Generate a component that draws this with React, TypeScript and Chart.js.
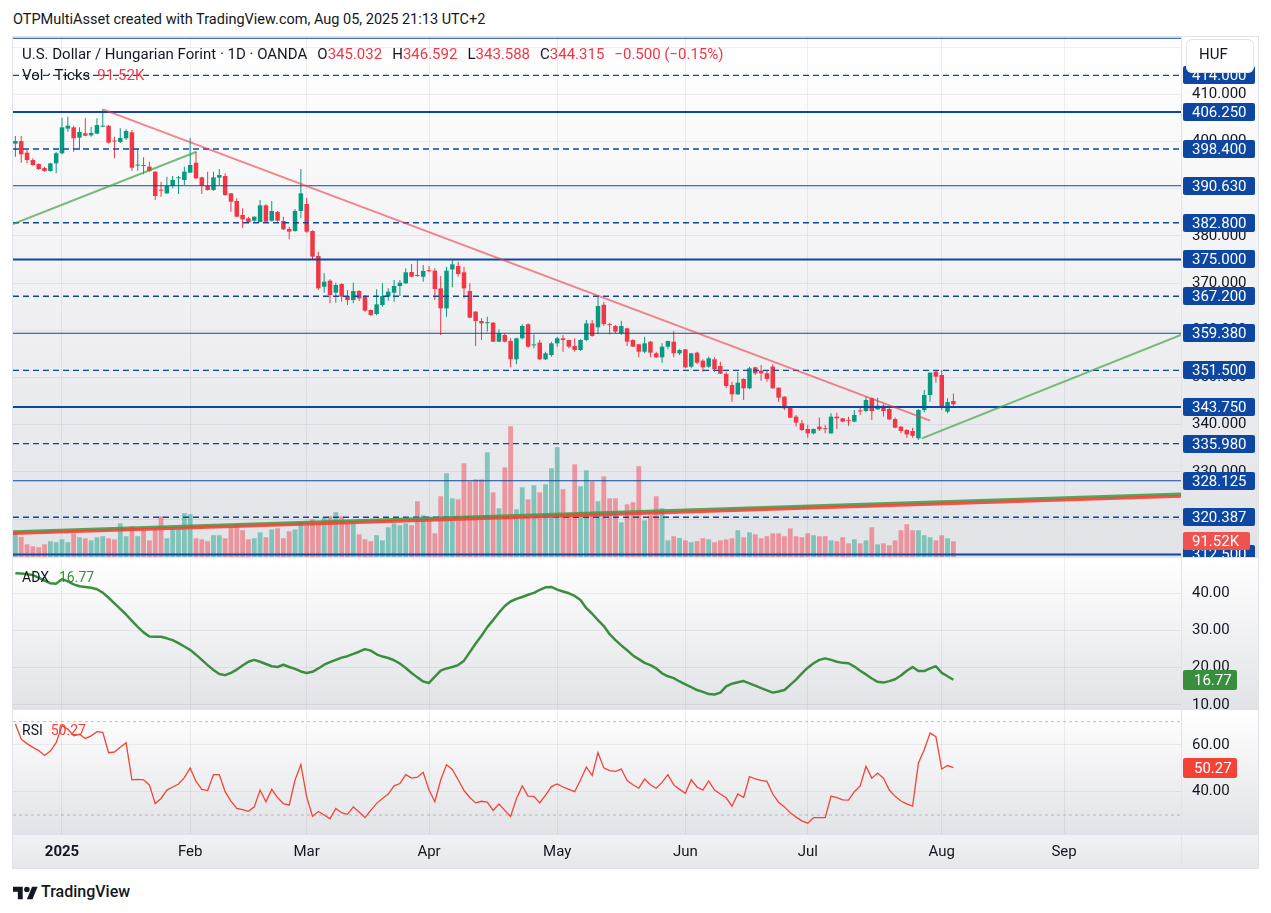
import React, { useEffect, useRef } from 'react';
import { Chart, registerables } from 'chart.js';

Chart.register(...registerables);

const FONT = 'Roboto, "Liberation Sans", Arial, sans-serif';
const TEXT = '#131722';
const UP = '#089981';
const DOWN = '#f23645';
const LEVEL = '#0d47a1';
const GRID = 'rgba(42, 46, 57, 0.07)';
const ADX_GREEN = '#3b8e3e';
const RSI_RED = '#f44336';

Chart.defaults.font.family = FONT;
Chart.defaults.color = TEXT;

// Horizontal window in bar units (bar 0 = 2 Jan 2025, weekdays only)
const X_MIN = -8.41;
const X_MAX = 192.07;
const AXIS_W = 77;

// ---- USD/HUF daily candles, first bar = 19 Dec 2024 ----
const firstBar = -8;
const opens = [
  399.54, 400.1, 397.63, 396.08, 395.23, 394.38, 393.75, 395.37,
  397.49, 402.72, 403.0, 400.81, 401.73, 401.3, 401.66, 403.14, 403.35, 400.2,
  399.89, 400.67, 401.94, 394.9, 394.9, 394.67, 393.61, 389.7, 389.02, 390.57,
  392.2, 391.84, 393.4, 395.51, 392.41, 390.57, 389.72, 392.34, 392.69, 389.02,
  387.39, 384.43, 383.72, 383.23, 382.94, 386.47, 383.23, 385.06, 383.16, 381.46,
  381.04, 385.27, 386.76, 381.04, 375.74, 369.24, 370.51, 367.97, 369.81, 367.27,
  366.42, 368.33, 367.13, 364.3, 363.45, 365.36, 367.13, 367.97, 369.38, 369.95,
  372.35, 371.6, 371.36, 372.6, 372.63, 368.89, 364.65, 372.9, 373.62, 372.28,
  368.33, 363.95, 361.97, 361.5, 361.62, 357.59, 359.0, 357.73, 353.85, 358.3,
  361.26, 356.8, 357.38, 353.85, 354.77, 357.24, 358.3, 357.94, 356.68, 355.83,
  357.94, 361.47, 360.63, 365.4, 361.2, 360.91, 359.36, 360.42, 357.94, 357.03,
  355.47, 357.59, 355.12, 354.27, 356.53, 357.59, 355.12, 355.97, 352.29, 355.26,
  353.56, 352.29, 353.85, 352.44, 350.74, 348.41, 346.43, 349.69, 347.71, 352.16,
  351.45, 350.89, 352.3, 347.85, 345.94, 343.68, 341.7, 340.29, 339.1, 338.17,
  339.59, 339.15, 338.17, 341.7, 341.35, 340.85, 340.65, 342.9, 342.9, 345.59,
  343.26, 344.03, 343.33, 341.21, 339.59, 338.88, 338.67, 337.12, 343.12, 346.29,
  351.24, 350.53, 342.76, 345.032,
];
const highs = [
  401.16, 401.16, 398.2, 396.43, 395.37, 394.67, 395.51, 397.84,
  405.05, 405.26, 403.35, 403.0, 404.9, 403.14, 404.9, 406.81, 403.49, 401.02,
  402.79, 402.58, 402.43, 398.41, 396.64, 395.72, 393.7, 391.49, 392.55, 392.69,
  392.69, 394.67, 400.81, 397.84, 392.55, 393.61, 393.61, 394.17, 393.25, 389.1,
  387.96, 385.84, 384.07, 384.1, 387.6, 386.69, 387.39, 385.27, 384.07, 381.95,
  385.7, 394.17, 388.1, 381.2, 376.66, 372.07, 370.8, 370.1, 369.95, 368.54,
  370.1, 368.54, 367.48, 364.4, 368.68, 369.95, 368.89, 370.66, 370.66, 373.13,
  374.04, 374.89, 373.83, 373.62, 373.13, 371.5, 373.48, 375.03, 374.54, 373.48,
  369.95, 364.05, 362.53, 362.89, 361.7, 360.2, 359.36, 358.3, 358.4, 361.26,
  361.47, 359.14, 357.94, 355.47, 357.59, 358.65, 359.0, 358.0, 358.3, 358.09,
  362.18, 362.18, 367.27, 366.07, 361.62, 361.12, 362.04, 360.56, 358.09, 357.1,
  358.65, 357.73, 355.47, 357.24, 357.8, 359.85, 355.97, 356.05, 355.26, 355.47,
  353.85, 354.41, 354.27, 353.35, 351.24, 349.12, 351.24, 349.82, 352.3, 352.3,
  352.65, 351.38, 352.79, 347.9, 346.0, 343.82, 342.06, 341.0, 339.94, 339.2,
  341.5, 339.94, 342.41, 342.55, 341.4, 341.7, 343.12, 343.82, 345.94, 345.73,
  345.73, 344.32, 343.61, 341.5, 339.65, 339.1, 339.37, 343.33, 347.36, 351.1,
  351.38, 351.59, 345.59, 346.592,
];
const lows = [
  396.79, 395.51, 395.37, 394.9, 393.96, 393.61, 393.61, 393.25,
  397.3, 402.08, 397.84, 398.2, 401.1, 401.02, 401.52, 403.0, 399.6, 396.43,
  399.61, 400.32, 393.82, 393.82, 393.04, 393.61, 387.6, 388.31, 388.88, 390.07,
  388.88, 390.78, 393.3, 391.98, 388.88, 389.58, 389.58, 390.78, 388.52, 385.13,
  384.0, 381.74, 382.66, 383.01, 382.9, 382.87, 383.01, 383.01, 381.25, 379.27,
  380.9, 383.72, 380.68, 375.03, 368.54, 367.97, 365.71, 365.85, 366.07, 365.36,
  365.71, 366.2, 363.95, 363.1, 363.2, 365.0, 366.28, 366.07, 367.27, 369.81,
  371.22, 371.36, 370.3, 372.28, 366.42, 359.0, 362.89, 369.1, 371.36, 366.77,
  362.53, 356.68, 357.94, 359.71, 357.5, 357.5, 357.45, 352.15, 352.79, 358.09,
  356.32, 356.18, 353.7, 353.7, 354.41, 356.53, 355.47, 356.18, 355.47, 355.6,
  357.73, 358.65, 359.14, 360.91, 359.1, 359.36, 359.0, 356.68, 356.5, 354.27,
  355.12, 354.27, 354.2, 353.14, 355.97, 354.27, 354.77, 351.94, 351.94, 352.86,
  351.24, 352.08, 351.24, 350.74, 347.7, 344.88, 346.29, 345.24, 347.5, 350.53,
  349.33, 349.12, 347.6, 344.88, 343.12, 341.35, 339.6, 338.67, 337.26, 338.0,
  338.67, 338.17, 338.1, 339.1, 340.5, 339.8, 340.5, 342.06, 342.62, 341.0,
  343.12, 341.7, 341.0, 339.24, 338.17, 337.26, 337.26, 336.76, 342.62, 344.88,
  348.91, 343.12, 342.41, 343.588,
];
const closes = [
  400.1, 397.28, 396.08, 395.02, 394.17, 393.75, 395.37, 397.49,
  403.0, 403.35, 400.67, 402.01, 401.23, 401.8, 403.49, 403.35, 399.75, 400.0,
  400.74, 402.22, 394.45, 395.0, 394.8, 393.75, 388.45, 389.58, 390.57, 391.84,
  392.3, 393.61, 395.02, 392.2, 390.64, 389.72, 392.41, 392.9, 388.66, 387.25,
  384.07, 383.51, 382.87, 384.07, 386.47, 383.01, 385.27, 383.23, 381.39, 380.9,
  385.27, 389.02, 380.9, 375.6, 368.89, 370.3, 367.48, 369.6, 367.13, 366.42,
  368.33, 366.77, 364.16, 363.24, 365.5, 367.27, 368.18, 369.38, 370.09, 372.28,
  371.36, 371.5, 372.56, 372.5, 368.75, 364.65, 372.63, 373.97, 371.93, 368.89,
  362.68, 361.97, 361.47, 361.6, 357.59, 359.36, 357.59, 353.85, 358.3, 360.91,
  356.53, 356.9, 353.85, 355.12, 357.24, 358.3, 357.94, 356.53, 355.83, 357.94,
  361.47, 358.79, 365.15, 361.3, 361.1, 359.71, 360.91, 357.59, 356.53, 355.47,
  357.24, 355.26, 354.27, 356.53, 357.73, 355.12, 355.83, 352.15, 355.12, 353.14,
  352.15, 354.06, 351.73, 350.8, 348.2, 346.43, 348.91, 347.71, 351.95, 350.89,
  350.89, 349.69, 347.71, 345.73, 343.47, 341.5, 340.43, 338.88, 338.17, 339.1,
  339.02, 339.05, 341.7, 341.35, 340.65, 340.75, 342.06, 342.8, 345.24, 342.9,
  344.03, 342.9, 341.14, 339.37, 338.67, 337.96, 337.68, 343.12, 346.29, 351.03,
  350.18, 343.82, 344.815, 344.315,
];
// Tick volume, thousands
const volumesK = [
  136, 117, 74, 62, 57, 74, 92, 86,
  103, 86, 136, 115, 109, 97, 115, 121, 109, 103,
  196, 121, 179, 121, 156, 97, 171, 237, 109, 166,
  171, 255, 249, 109, 103, 92, 127, 127, 109, 171,
  179, 156, 103, 109, 144, 115, 161, 167, 109, 150,
  161, 202, 185, 220, 195, 231, 237, 261, 237, 195,
  195, 132, 103, 92, 127, 97, 173, 196, 185, 196,
  185, 325, 243, 231, 138, 354, 488, 342, 336, 546,
  441, 453, 453, 610, 377, 284, 523, 762, 278, 406,
  336, 418, 377, 424, 517, 640, 395, 255, 540, 412,
  505, 440, 325, 470, 342, 342, 202, 307, 319, 529,
  214, 243, 354, 284, 97, 121, 111, 97, 86, 92,
  109, 103, 86, 97, 103, 109, 156, 115, 144, 132,
  109, 121, 138, 138, 121, 167, 121, 115, 138, 127,
  121, 121, 97, 92, 115, 80, 103, 80, 97, 173,
  74, 80, 68, 97, 156, 191, 156, 156, 127, 115,
  97, 127, 109, 91.52,
];
const adxValues = [
  45.4, 45.3, 45.1, 44.9, 44.2, 43.4, 42.7, 42.6,
  43.8, 43.2, 42.4, 41.9, 41.7, 41.5, 41.1, 40.2, 38.8, 37.3,
  35.8, 34.3, 32.6, 31.0, 29.5, 28.4, 28.3, 28.3, 27.9, 27.4,
  26.6, 25.7, 24.8, 23.5, 22.1, 20.7, 19.4, 18.3, 18.0, 18.6,
  19.5, 20.6, 21.6, 22.1, 21.6, 21.0, 20.4, 20.2, 20.8, 20.2,
  19.7, 19.0, 18.6, 18.9, 19.8, 20.8, 21.5, 22.1, 22.7, 23.1,
  23.7, 24.3, 25.0, 24.6, 23.6, 23.0, 22.6, 22.0, 21.1, 19.9,
  18.6, 17.4, 16.3, 15.9, 17.6, 19.2, 19.8, 20.2, 20.7, 21.9,
  24.2, 26.5, 28.6, 30.9, 32.8, 34.8, 36.6, 37.8, 38.5, 39.0,
  39.6, 40.1, 40.9, 41.6, 41.7, 41.0, 40.5, 40.0, 39.3, 38.2,
  36.0, 34.5, 32.8, 31.2, 29.0, 27.4, 26.0, 24.7, 23.3, 22.3,
  21.3, 20.7, 19.8, 18.5, 17.7, 17.2, 16.3, 15.5, 14.8, 14.0,
  13.5, 12.9, 12.8, 13.3, 15.0, 15.7, 16.1, 16.4, 15.8, 15.2,
  14.5, 13.9, 13.3, 13.6, 14.0, 15.4, 16.8, 18.5, 20.0, 21.2,
  22.1, 22.5, 22.1, 21.6, 21.3, 21.2, 20.3, 19.2, 18.2, 17.1,
  16.2, 16.0, 16.4, 16.9, 17.9, 19.2, 20.2, 19.1, 19.1, 19.8,
  20.4, 18.6, 17.7, 16.77,
];
const rsiValues = [
  69.0, 62.5, 60.6, 59.0, 57.6, 55.5, 57.4, 61.0,
  68.3, 66.8, 64.0, 64.6, 62.8, 63.9, 65.7, 65.4, 56.7, 57.0,
  59.0, 61.0, 45.1, 45.3, 45.1, 42.9, 34.9, 37.1, 40.7, 42.0,
  43.3, 46.0, 50.2, 44.4, 41.0, 40.5, 47.3, 47.3, 40.0, 36.0,
  32.8, 32.3, 31.6, 33.5, 40.7, 35.7, 41.0, 37.5, 34.9, 34.2,
  45.0, 51.6, 37.8, 29.4, 31.5, 30.0, 28.4, 32.8, 31.0, 30.3,
  33.5, 31.3, 28.9, 32.0, 35.0, 37.1, 39.0, 42.5, 43.5, 47.3,
  45.8, 46.2, 48.3, 40.7, 35.7, 45.0, 51.5, 49.5, 45.1, 40.5,
  37.5, 35.2, 35.9, 35.5, 32.0, 34.7, 32.0, 29.4, 37.0, 42.5,
  38.1, 38.0, 35.2, 38.5, 42.2, 43.3, 42.0, 41.0, 40.0, 45.0,
  50.6, 47.0, 56.7, 50.2, 49.0, 48.7, 49.7, 44.8, 43.0, 41.5,
  45.4, 43.0, 41.5, 44.0, 47.3, 42.9, 41.0, 39.3, 45.1, 42.0,
  40.7, 44.6, 40.7, 39.0, 37.4, 33.8, 39.0, 37.5, 46.5, 45.5,
  44.8, 44.4, 39.0, 35.5, 33.5, 31.0, 29.1, 27.5, 26.5, 28.9,
  28.9, 28.9, 38.1, 37.5, 36.5, 36.4, 40.0, 42.5, 50.9, 45.8,
  48.0, 45.8, 40.7, 38.0, 36.0, 34.8, 33.8, 52.3, 58.0, 65.1,
  63.6, 49.7, 51.2, 50.27,
];

const monthTicks = [0, 22, 42, 63, 85, 107, 128, 151, 172];
const monthLabels = ['2025', 'Feb', 'Mar', 'Apr', 'May', 'Jun', 'Jul', 'Aug', 'Sep'];

const priceTicks = [320, 330, 340, 350, 360, 370, 380, 390, 400, 410, 420];
const adxTicks = [10, 20, 30, 40];
const rsiTicks = [40, 60];
const rsiBands = [30, 70];

// Horizontal price levels
const majorLevels = [312.5, 343.75, 375.0, 406.25];
const minorLevels = [328.125, 359.38, 390.63, 421.875];
const dashedLevels = [320.387, 335.98, 351.5, 367.2, 382.8, 398.4, 414.0];

// Trend lines as [bar, price] pairs
const downTrend = [[7, 406.8], [149, 340.85]];
const earlyUpTrend = [[-8.41, 382.5], [23.1, 397.84]];
const lateUpTrend = [[147.6, 337.1], [192.07, 359.0]];
const channelUpper = [[-8.41, 317.3], [192.07, 325.3]];
const channelLower = [[-8.41, 316.95], [192.07, 324.85]];

const bars = opens.map((_, i) => firstBar + i);
const last = opens.length - 1;
const isUp = (i: number) => closes[i] >= opens[i];
const candleColors = bars.map((_, i) => (isUp(i) ? UP : DOWN));
const volumeColors = bars.map((_, i) => (isUp(i) ? 'rgba(8,153,129,0.45)' : 'rgba(242,54,69,0.45)'));

type Badge = { axis: string; value: number; text: string; color: string; width: number; height: number; shift?: number; textX?: number };

function roundRect(ctx: CanvasRenderingContext2D, x: number, y: number, w: number, h: number, r: number) {
  ctx.beginPath();
  if ((ctx as any).roundRect) (ctx as any).roundRect(x, y, w, h, r);
  else ctx.rect(x, y, w, h);
}

function panePlugin(badges: Badge[], extra?: (chart: any) => void) {
  return {
    id: 'pane',
    beforeDraw(chart: any) {
      const { ctx, chartArea, width, height } = chart;
      ctx.save();
      const g = ctx.createLinearGradient(0, chartArea.top, 0, chartArea.bottom);
      g.addColorStop(0, '#ffffff');
      g.addColorStop(1, '#e2e3e7');
      ctx.fillStyle = g;
      ctx.fillRect(0, 0, width, chartArea.bottom);
      if (height > chartArea.bottom + 1) {
        const g2 = ctx.createLinearGradient(0, chartArea.bottom, 0, height);
        g2.addColorStop(0, '#f2f3f5');
        g2.addColorStop(1, '#e6e7ea');
        ctx.fillStyle = g2;
        ctx.fillRect(0, chartArea.bottom, width, height - chartArea.bottom);
        ctx.fillStyle = '#e0e3eb';
        ctx.fillRect(0, chartArea.bottom, width, 1);
      }
      ctx.restore();
    },
    afterDraw(chart: any) {
      const { ctx, chartArea, height } = chart;
      ctx.save();
      ctx.fillStyle = '#e0e3eb';
      ctx.fillRect(chartArea.right, 0, 1, height);
      ctx.font = `15px ${FONT}`;
      ctx.textBaseline = 'middle';
      ctx.textAlign = 'left';
      for (const b of badges) {
        const y = Math.round(chart.scales[b.axis].getPixelForValue(b.value)) + (b.shift || 0);
        ctx.fillStyle = b.color;
        roundRect(ctx, chartArea.right + 2, y - b.height / 2, b.width, b.height, 2);
        ctx.fill();
        ctx.fillStyle = '#ffffff';
        ctx.fillText(b.text, chartArea.right + (b.textX || 11), y + 1);
      }
      if (extra) extra(chart);
      ctx.restore();
    },
  };
}

function xScale(showLabels: boolean) {
  return {
    type: 'linear',
    min: X_MIN,
    max: X_MAX,
    offset: false,
    afterBuildTicks: (s: any) => {
      s.ticks = monthTicks.map((v) => ({ value: v }));
    },
    grid: { color: GRID, drawTicks: false, offset: false },
    border: { display: false },
    ticks: showLabels
      ? {
          display: true,
          autoSkip: false,
          maxRotation: 0,
          padding: 9,
          color: TEXT,
          font: (c: any) => ({ family: FONT, size: 15, weight: c && c.tick && c.tick.value === 0 ? 'bold' : 'normal' }),
          callback: (v: number) => {
            const k = monthTicks.indexOf(v);
            return k >= 0 ? monthLabels[k] : '';
          },
        }
      : { display: false },
    afterFit: (s: any) => {
      s.height = showLabels ? 34 : 0;
      s.paddingLeft = 0;
      s.paddingRight = 0;
    },
  };
}

function yScale(min: number, max: number, ticks: number[], digits: number) {
  return {
    type: 'linear',
    position: 'right',
    min,
    max,
    afterBuildTicks: (s: any) => {
      s.ticks = ticks.map((v) => ({ value: v }));
    },
    grid: { color: GRID, drawTicks: false },
    border: { display: false },
    ticks: {
      autoSkip: false,
      padding: 11,
      color: TEXT,
      font: { family: FONT, size: 15 },
      callback: (v: number) => Number(v).toFixed(digits),
    },
    afterFit: (s: any) => {
      s.width = AXIS_W;
      s.paddingTop = 0;
      s.paddingBottom = 0;
    },
  };
}

function lineSet(points: number[][], color: string, width: number, dash: number[], order: number, axis = 'y') {
  return {
    type: 'line',
    data: points.map(([x, y]) => ({ x, y })),
    borderColor: color,
    borderWidth: width,
    borderDash: dash,
    pointRadius: 0,
    tension: 0,
    order,
    yAxisID: axis,
  };
}

const baseOptions = {
  responsive: false,
  animation: false,
  events: [],
  layout: { padding: 0 },
  plugins: { legend: { display: false }, tooltip: { enabled: false } },
};

function priceConfig() {
  const levelSets = [
    ...majorLevels.map((v) => lineSet([[X_MIN, v], [X_MAX, v]], LEVEL, 2, [], 2)),
    ...minorLevels.map((v) => lineSet([[X_MIN, v], [X_MAX, v]], LEVEL, 1.2, [], 2)),
    ...dashedLevels.map((v) => lineSet([[X_MIN, v], [X_MAX, v]], LEVEL, 1.4, [6, 4], 2)),
  ];
  const trendSets = [
    lineSet(channelUpper, 'rgba(67,160,71,0.9)', 3, [], 1),
    lineSet(channelLower, 'rgba(244,67,54,0.9)', 3, [], 0),
    lineSet(downTrend, 'rgba(242,54,69,0.6)', 2, [], 1),
    lineSet(earlyUpTrend, 'rgba(67,160,71,0.7)', 2, [], 1),
    lineSet(lateUpTrend, 'rgba(67,160,71,0.7)', 2, [], 1),
  ];
  const levelBadges: Badge[] = [...majorLevels, ...minorLevels, ...dashedLevels]
    .filter((v) => v < 420)
    .map((v) => ({ axis: 'y', value: v, text: v.toFixed(3), color: LEVEL, width: 72, height: 18 }));
  const badges: Badge[] = [
    ...levelBadges,
    { axis: 'vol', value: volumesK[last], text: `${volumesK[last].toFixed(2)}K`, color: '#ef5350', width: 67, height: 18 },
  ];
  const drawCurrencyBox = (chart: any) => {
    const { ctx, chartArea } = chart;
    const x = chartArea.right + 5;
    ctx.fillStyle = '#ffffff';
    roundRect(ctx, x, 2, 68, 34, 6);
    ctx.fill();
    ctx.strokeStyle = '#e0e3eb';
    ctx.lineWidth = 1;
    roundRect(ctx, x + 0.5, 2.5, 67, 33, 6);
    ctx.stroke();
    ctx.fillStyle = TEXT;
    ctx.font = `15px ${FONT}`;
    ctx.textBaseline = 'middle';
    ctx.fillText('HUF', x + 13, 18);
  };
  return {
    type: 'line',
    data: {
      datasets: [
        ...levelSets,
        ...trendSets,
        {
          type: 'bar',
          data: bars.map((x, i) => ({ x, y: [opens[i], closes[i]] })),
          backgroundColor: candleColors,
          barThickness: 4.5,
          minBarLength: 1,
          inflateAmount: 0,
          grouped: false,
          order: 4,
          yAxisID: 'y',
        },
        {
          type: 'bar',
          data: bars.map((x, i) => ({ x, y: [lows[i], highs[i]] })),
          backgroundColor: candleColors,
          barThickness: 1,
          inflateAmount: 0,
          grouped: false,
          order: 5,
          yAxisID: 'y',
        },
        {
          type: 'bar',
          data: bars.map((x, i) => ({ x, y: volumesK[i] })),
          backgroundColor: volumeColors,
          barThickness: 4.8,
          inflateAmount: 0,
          grouped: false,
          order: 10,
          yAxisID: 'vol',
        },
      ],
    },
    options: {
      ...baseOptions,
      scales: {
        x: xScale(false),
        y: yScale(311.97, 422.14, priceTicks, 3),
        vol: { type: 'linear', display: false, position: 'left', min: 0, max: 3030 },
      },
    },
    plugins: [panePlugin(badges, drawCurrencyBox)],
  };
}

function adxConfig() {
  return {
    type: 'line',
    data: {
      datasets: [
        {
          data: bars.map((x, i) => ({ x, y: adxValues[i] })),
          borderColor: ADX_GREEN,
          borderWidth: 2.5,
          borderJoinStyle: 'round',
          pointRadius: 0,
          tension: 0,
        },
      ],
    },
    options: {
      ...baseOptions,
      scales: { x: xScale(false), y: yScale(8.9, 49.49, adxTicks, 2) },
    },
    plugins: [
      panePlugin([
        { axis: 'y', value: adxValues[last], text: adxValues[last].toFixed(2), color: '#388e3c', width: 54, height: 20, textX: 13 },
      ]),
    ],
  };
}

function rsiConfig() {
  return {
    type: 'line',
    data: {
      datasets: [
        ...rsiBands.map((v) => lineSet([[X_MIN, v], [X_MAX, v]], 'rgba(120,123,134,0.45)', 1, [3, 3], 2)),
        {
          data: bars.map((x, i) => ({ x, y: rsiValues[i] })),
          borderColor: RSI_RED,
          borderWidth: 1.3,
          pointRadius: 0,
          tension: 0,
          order: 0,
        },
      ],
    },
    options: {
      ...baseOptions,
      scales: { x: xScale(true), y: yScale(21.88, 74.99, rsiTicks, 2) },
    },
    plugins: [
      panePlugin([
        { axis: 'y', value: rsiValues[last], text: rsiValues[last].toFixed(2), color: RSI_RED, width: 54, height: 20, textX: 13 },
      ]),
    ],
  };
}

function Logo() {
  return (
    <svg width="25" height="16" viewBox="0 0 36 23" style={{ position: 'absolute', left: 13, top: 884 }}>
      <path d="M14 22H7V11H0V4h14v18z" fill={TEXT} />
      <circle cx="20" cy="8" r="4" fill={TEXT} />
      <path d="M28 22h-8l7.5-18h8z" fill={TEXT} />
    </svg>
  );
}

export default function App() {
  const priceRef = useRef<HTMLCanvasElement | null>(null);
  const adxRef = useRef<HTMLCanvasElement | null>(null);
  const rsiRef = useRef<HTMLCanvasElement | null>(null);

  useEffect(() => {
    const charts: Chart[] = [];
    if (priceRef.current) charts.push(new Chart(priceRef.current, priceConfig() as any));
    if (adxRef.current) charts.push(new Chart(adxRef.current, adxConfig() as any));
    if (rsiRef.current) charts.push(new Chart(rsiRef.current, rsiConfig() as any));
    return () => charts.forEach((c) => c.destroy());
  }, []);

  const prev = closes[last - 1];
  const change = closes[last] - prev;
  const sign = change < 0 ? '\u2212' : '+';
  const changeText = `${sign}${Math.abs(change).toFixed(3)} (${sign}${((Math.abs(change) / prev) * 100).toFixed(2)}%)`;
  const red = { color: DOWN };
  const gap = { marginLeft: 10 };

  return (
    <div
      style={{
        position: 'absolute',
        left: 0,
        top: 0,
        width: 1271,
        height: 913,
        background: '#ffffff',
        fontFamily: FONT,
        color: TEXT,
        overflow: 'hidden',
      }}
    >
      <div style={{ position: 'absolute', left: 13, top: 11, fontSize: 14.5, lineHeight: '18px', whiteSpace: 'nowrap' }}>
        OTPMultiAsset created with TradingView.com, Aug 05, 2025 21:13 UTC+2
      </div>
      <div style={{ position: 'absolute', left: 12, top: 36, width: 1247, height: 833, background: '#e0e3eb' }}>
        <canvas ref={priceRef} width={1245} height={520} style={{ position: 'absolute', left: 1, top: 1, display: 'block' }} />
        <canvas ref={adxRef} width={1245} height={151} style={{ position: 'absolute', left: 1, top: 522, display: 'block' }} />
        <canvas ref={rsiRef} width={1245} height={158} style={{ position: 'absolute', left: 1, top: 674, display: 'block' }} />
      </div>
      <div style={{ position: 'absolute', left: 22, top: 45, fontSize: 15, lineHeight: '18px', whiteSpace: 'nowrap' }}>
        <span>U.S. Dollar / Hungarian Forint · 1D · OANDA</span>
        <span style={gap}>O</span>
        <span style={red}>{opens[last].toFixed(3)}</span>
        <span style={gap}>H</span>
        <span style={red}>{highs[last].toFixed(3)}</span>
        <span style={gap}>L</span>
        <span style={red}>{lows[last].toFixed(3)}</span>
        <span style={gap}>C</span>
        <span style={red}>{closes[last].toFixed(3)}</span>
        <span style={{ ...red, ...gap }}>{changeText}</span>
      </div>
      <div style={{ position: 'absolute', left: 22, top: 66, fontSize: 15, lineHeight: '18px', whiteSpace: 'nowrap' }}>
        <span>Vol · Ticks</span>
        <span style={{ ...red, marginLeft: 7 }}>{volumesK[last].toFixed(2)}K</span>
      </div>
      <div style={{ position: 'absolute', left: 22, top: 568, fontSize: 14, lineHeight: '18px', whiteSpace: 'nowrap' }}>
        <span>ADX</span>
        <span style={{ color: '#388e3c', marginLeft: 10 }}>{adxValues[last].toFixed(2)}</span>
      </div>
      <div style={{ position: 'absolute', left: 22, top: 721, fontSize: 14, lineHeight: '18px', whiteSpace: 'nowrap' }}>
        <span>RSI</span>
        <span style={{ color: RSI_RED, marginLeft: 8 }}>{rsiValues[last].toFixed(2)}</span>
      </div>
      <Logo />
      <div style={{ position: 'absolute', left: 41, top: 882, fontSize: 16, lineHeight: '20px', fontWeight: 500, whiteSpace: 'nowrap' }}>
        TradingView
      </div>
    </div>
  );
}
